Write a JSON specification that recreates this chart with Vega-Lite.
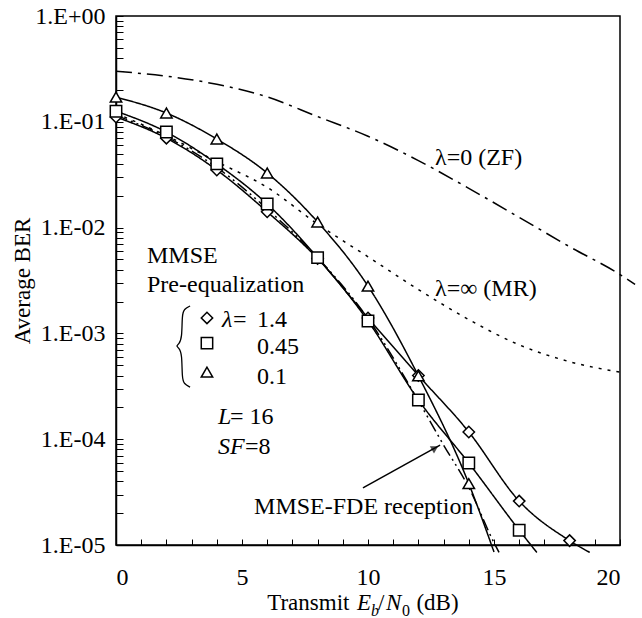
{
  "$schema": "https://vega.github.io/schema/vega-lite/v6.json",
  "width": 504,
  "height": 529,
  "autosize": "none",
  "padding": {"left": 116, "top": 16, "right": 22, "bottom": 73},
  "background": "white",
  "config": {
    "view": {"stroke": "black", "strokeWidth": 1.5},
    "axis": {
      "domainColor": "black", "domainWidth": 1.5, "tickColor": "black", "tickWidth": 1,
      "labelFont": "Times New Roman, Liberation Serif, serif", "labelFontSize": 24, "labelColor": "black",
      "titleFont": "Times New Roman, Liberation Serif, serif", "titleFontSize": 23, "titleFontWeight": "normal", "titleColor": "black",
      "grid": false, "labelOverlap": false
    },
    "text": {"font": "Times New Roman, Liberation Serif, serif", "fontSize": 24, "color": "black"}
  },
  "datasets": {
    "curves": [
      {"s": "MR", "x": 0, "y": 0.12}, {"s": "MR", "x": 2, "y": 0.074}, {"s": "MR", "x": 4, "y": 0.042},
      {"s": "MR", "x": 6, "y": 0.024}, {"s": "MR", "x": 8, "y": 0.0108}, {"s": "MR", "x": 10, "y": 0.0053},
      {"s": "MR", "x": 12, "y": 0.0026}, {"s": "MR", "x": 14, "y": 0.00135}, {"s": "MR", "x": 16, "y": 0.00078},
      {"s": "MR", "x": 18, "y": 0.00054}, {"s": "MR", "x": 20, "y": 0.00043},
      {"s": "l14", "x": 0, "y": 0.111}, {"s": "l14", "x": 2, "y": 0.070}, {"s": "l14", "x": 4, "y": 0.035},
      {"s": "l14", "x": 6, "y": 0.0141}, {"s": "l14", "x": 8, "y": 0.0051}, {"s": "l14", "x": 10, "y": 0.0014},
      {"s": "l14", "x": 12, "y": 0.00040}, {"s": "l14", "x": 14, "y": 0.000117}, {"s": "l14", "x": 16, "y": 0.000026},
      {"s": "l14", "x": 18, "y": 0.000011}, {"s": "l14", "x": 18.8, "y": 0.0000085},
      {"s": "l045", "x": 0, "y": 0.126}, {"s": "l045", "x": 2, "y": 0.080}, {"s": "l045", "x": 4, "y": 0.040},
      {"s": "l045", "x": 6, "y": 0.0167}, {"s": "l045", "x": 8, "y": 0.0052}, {"s": "l045", "x": 10, "y": 0.00131},
      {"s": "l045", "x": 12, "y": 0.000235}, {"s": "l045", "x": 14, "y": 0.0000595}, {"s": "l045", "x": 16, "y": 0.0000138},
      {"s": "l045", "x": 16.7, "y": 0.0000085},
      {"s": "l01", "x": 0, "y": 0.171}, {"s": "l01", "x": 2, "y": 0.121}, {"s": "l01", "x": 4, "y": 0.0687},
      {"s": "l01", "x": 6, "y": 0.0328}, {"s": "l01", "x": 8, "y": 0.0113}, {"s": "l01", "x": 10, "y": 0.0028},
      {"s": "l01", "x": 12, "y": 0.000397}, {"s": "l01", "x": 14, "y": 0.000038}, {"s": "l01", "x": 15, "y": 0.0000086},
      {"s": "FDE", "x": 0, "y": 0.115}, {"s": "FDE", "x": 2, "y": 0.072}, {"s": "FDE", "x": 4, "y": 0.037},
      {"s": "FDE", "x": 6, "y": 0.0150}, {"s": "FDE", "x": 8, "y": 0.0052}, {"s": "FDE", "x": 10, "y": 0.00138},
      {"s": "FDE", "x": 12, "y": 0.00023}, {"s": "FDE", "x": 13, "y": 0.000088}, {"s": "FDE", "x": 14, "y": 0.000035},
      {"s": "FDE", "x": 15, "y": 0.0000105}, {"s": "FDE", "x": 15.2, "y": 0.0000085}
    ],
    "zf": [
      {"x": 0, "y": 0.30}, {"x": 2, "y": 0.27}, {"x": 4, "y": 0.226}, {"x": 6, "y": 0.172},
      {"x": 8, "y": 0.112}, {"x": 10, "y": 0.073}, {"x": 12, "y": 0.043}, {"x": 14, "y": 0.0235},
      {"x": 16, "y": 0.0125}, {"x": 18, "y": 0.0066}, {"x": 20, "y": 0.0036}, {"x": 20.6, "y": 0.0029}
    ],
    "marks": [
      {"s": "l14", "x": 0, "y": 0.111}, {"s": "l14", "x": 2, "y": 0.070}, {"s": "l14", "x": 4, "y": 0.035},
      {"s": "l14", "x": 6, "y": 0.0141}, {"s": "l14", "x": 8, "y": 0.0051}, {"s": "l14", "x": 10, "y": 0.0014},
      {"s": "l14", "x": 12, "y": 0.00040}, {"s": "l14", "x": 14, "y": 0.000117}, {"s": "l14", "x": 16, "y": 0.000026},
      {"s": "l14", "x": 18, "y": 0.000011},
      {"s": "l045", "x": 0, "y": 0.126}, {"s": "l045", "x": 2, "y": 0.080}, {"s": "l045", "x": 4, "y": 0.040},
      {"s": "l045", "x": 6, "y": 0.0167}, {"s": "l045", "x": 8, "y": 0.0052}, {"s": "l045", "x": 10, "y": 0.00131},
      {"s": "l045", "x": 12, "y": 0.000235}, {"s": "l045", "x": 14, "y": 0.0000595}, {"s": "l045", "x": 16, "y": 0.0000138},
      {"s": "l01", "x": 0, "y": 0.171}, {"s": "l01", "x": 2, "y": 0.121}, {"s": "l01", "x": 4, "y": 0.0687},
      {"s": "l01", "x": 6, "y": 0.0328}, {"s": "l01", "x": 8, "y": 0.0113}, {"s": "l01", "x": 10, "y": 0.0028},
      {"s": "l01", "x": 12, "y": 0.000397}, {"s": "l01", "x": 14, "y": 0.000038},
      {"s": "l14", "x": 3.61, "y": 0.00140}, {"s": "l045", "x": 3.61, "y": 0.00081}, {"s": "l01", "x": 3.61, "y": 0.00043}
    ],
    "notes": [
      {"t": "λ=0 (ZF)", "x": 12.66, "y": 0.0455, "k": "n"},
      {"t": "λ=∞ (MR)", "x": 12.66, "y": 0.00263, "k": "n"},
      {"t": "MMSE", "x": 1.23, "y": 0.0054, "k": "n"},
      {"t": "Pre-equalization", "x": 1.23, "y": 0.00286, "k": "n"},
      {"t": "λ", "x": 4.21, "y": 0.00134, "k": "i"},
      {"t": "=", "x": 4.64, "y": 0.00134, "k": "n"},
      {"t": "1.4", "x": 5.6, "y": 0.00134, "k": "n"},
      {"t": "0.45", "x": 5.6, "y": 0.000744, "k": "n"},
      {"t": "0.1", "x": 5.6, "y": 0.000387, "k": "n"},
      {"t": "L", "x": 4.05, "y": 0.000162, "k": "i"},
      {"t": "= 16", "x": 4.52, "y": 0.000162, "k": "n"},
      {"t": "SF", "x": 4.05, "y": 0.000084, "k": "i"},
      {"t": "=8", "x": 5.12, "y": 0.000084, "k": "n"},
      {"t": "MMSE-FDE reception", "x": 5.48, "y": 0.0000229, "k": "n"},
      {"t": "Transmit", "x": 6.0, "y": 0.00000283, "k": "t"},
      {"t": "E", "x": 9.56, "y": 0.00000283, "k": "ti"},
      {"t": "b", "x": 10.12, "y": 0.00000238, "k": "si"},
      {"t": "/", "x": 10.40, "y": 0.00000283, "k": "t"},
      {"t": "N", "x": 10.71, "y": 0.00000283, "k": "ti"},
      {"t": "0", "x": 11.35, "y": 0.00000238, "k": "sn"},
      {"t": "(dB)", "x": 11.92, "y": 0.00000283, "k": "t"}
    ],
    "brace": [
      {"o": 1, "x": 2.94, "y": 0.001815}, {"o": 2, "x": 2.70, "y": 0.00170}, {"o": 3, "x": 2.62, "y": 0.00149},
      {"o": 4, "x": 2.62, "y": 0.000905}, {"o": 5, "x": 2.50, "y": 0.000794}, {"o": 6, "x": 2.38, "y": 0.00076},
      {"o": 7, "x": 2.50, "y": 0.000728}, {"o": 8, "x": 2.62, "y": 0.000638}, {"o": 9, "x": 2.62, "y": 0.000379},
      {"o": 10, "x": 2.70, "y": 0.000332}, {"o": 11, "x": 2.94, "y": 0.000311}
    ]
  },
  "encoding": {
    "x": {"field": "x", "type": "quantitative", "scale": {"domain": [0, 20], "nice": false, "zero": false},
      "axis": {"title": null, "values": [0,1,2,3,4,5,6,7,8,9,10,11,12,13,14,15,16,17,18,19,20], "tickSize": -6,
        "labelPadding": 26, "labelExpr": "datum.value % 5 == 0 ? datum.label : ''"}},
    "y": {"field": "y", "type": "quantitative", "scale": {"type": "log", "domain": [0.00001, 1], "nice": false},
      "axis": {"title": "Average BER", "titlePadding": 0, "tickSize": -7, "labelPadding": 18,
        "values": [0.00001,0.00002,0.00003,0.00004,0.00005,0.00006,0.00007,0.00008,0.00009,
          0.0001,0.0002,0.0003,0.0004,0.0005,0.0006,0.0007,0.0008,0.0009,
          0.001,0.002,0.003,0.004,0.005,0.006,0.007,0.008,0.009,
          0.01,0.02,0.03,0.04,0.05,0.06,0.07,0.08,0.09,
          0.1,0.2,0.3,0.4,0.5,0.6,0.7,0.8,0.9,1],
        "labelExpr": "datum.value > 0.95 ? '1.E+00' : (abs(log(datum.value)/LN10 - round(log(datum.value)/LN10)) < 0.001 ? '1.E-0' + (-round(log(datum.value)/LN10)) : '')"}}
  },
  "layer": [
    {
      "data": {"name": "zf"},
      "mark": {"type": "line", "color": "black", "strokeWidth": 1.5, "strokeDash": [16, 6, 3, 6], "interpolate": "monotone", "clip": false},
      "encoding": {}
    },
    {
      "data": {"name": "curves"},
      "mark": {"type": "line", "color": "black", "strokeWidth": 1.5, "interpolate": "monotone", "clip": false},
      "encoding": {
        "detail": {"field": "s"},
        "strokeDash": {"field": "s", "type": "nominal", "legend": null,
          "scale": {"domain": ["MR", "l14", "l045", "l01", "FDE"], "range": [[3, 6], [1, 0], [1, 0], [1, 0], [12, 4, 2, 4, 2, 4]]}}
      }
    },
    {
      "data": {"name": "brace"},
      "mark": {"type": "line", "color": "black", "strokeWidth": 1.3, "interpolate": "basis", "clip": false},
      "encoding": {"order": {"field": "o"}}
    },
    {
      "data": {"values": [{"x": 9.80, "y": 0.0000346, "x2": 12.86, "y2": 0.000088}]},
      "mark": {"type": "rule", "color": "black", "strokeWidth": 1.5},
      "encoding": {"x2": {"field": "x2"}, "y2": {"field": "y2"}}
    },
    {
      "data": {"values": [{"x": 12.66, "y": 0.0000826}]},
      "mark": {"type": "point", "shape": "triangle-up", "angle": 60, "filled": true, "color": "black", "size": 70},
      "encoding": {}
    },
    {
      "data": {"name": "marks"},
      "mark": {"type": "point", "filled": false, "fill": "white", "fillOpacity": 1, "stroke": "black", "strokeWidth": 1.5, "size": 130, "opacity": 1},
      "encoding": {
        "shape": {"field": "s", "type": "nominal", "legend": null,
          "scale": {"domain": ["l14", "l045", "l01"], "range": ["diamond", "square", "triangle-up"]}}
      }
    },
    {
      "data": {"name": "notes"},
      "transform": [{"filter": "datum.k == 'n'"}],
      "mark": {"type": "text", "align": "left", "baseline": "middle"},
      "encoding": {"text": {"field": "t"}}
    },
    {
      "data": {"name": "notes"},
      "transform": [{"filter": "datum.k == 'i'"}],
      "mark": {"type": "text", "align": "left", "baseline": "middle", "fontStyle": "italic"},
      "encoding": {"text": {"field": "t"}}
    },
    {
      "data": {"name": "notes"},
      "transform": [{"filter": "datum.k == 't'"}],
      "mark": {"type": "text", "align": "left", "baseline": "middle", "fontSize": 23},
      "encoding": {"text": {"field": "t"}}
    },
    {
      "data": {"name": "notes"},
      "transform": [{"filter": "datum.k == 'ti'"}],
      "mark": {"type": "text", "align": "left", "baseline": "middle", "fontStyle": "italic", "fontSize": 23},
      "encoding": {"text": {"field": "t"}}
    },
    {
      "data": {"name": "notes"},
      "transform": [{"filter": "datum.k == 'si'"}],
      "mark": {"type": "text", "align": "left", "baseline": "middle", "fontStyle": "italic", "fontSize": 16},
      "encoding": {"text": {"field": "t"}}
    },
    {
      "data": {"name": "notes"},
      "transform": [{"filter": "datum.k == 'sn'"}],
      "mark": {"type": "text", "align": "left", "baseline": "middle", "fontSize": 16},
      "encoding": {"text": {"field": "t"}}
    }
  ]
}
